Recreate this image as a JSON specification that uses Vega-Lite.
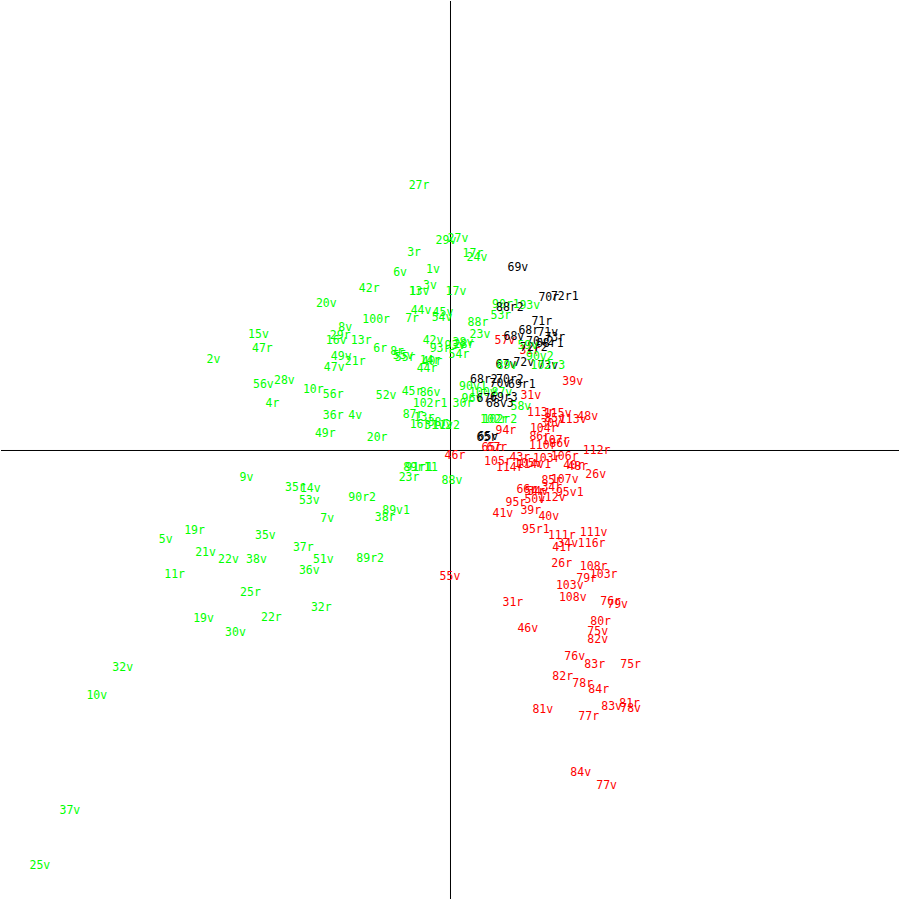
{
  "$schema": "https://vega.github.io/schema/vega-lite/v6.json",
  "autosize": {"type": "fit", "contains": "padding"},
  "width": 900,
  "height": 900,
  "padding": 0,
  "background": "white",
  "view": {"stroke": null},
  "config": {"font": "DejaVu Sans Mono"},
  "layer": [
    {
      "data": {"values": [{"v": 0}]},
      "mark": {"type": "rule", "color": "black", "strokeWidth": 1},
      "encoding": {
        "x": {"field": "v", "type": "quantitative", "scale": {"domain": [-450.5, 449.5]}, "axis": null}
      }
    },
    {
      "data": {"values": [{"v": 0}]},
      "mark": {"type": "rule", "color": "black", "strokeWidth": 1},
      "encoding": {
        "y": {"field": "v", "type": "quantitative", "scale": {"domain": [-449.5, 450.5]}, "axis": null}
      }
    },
    {
      "data": {"values": [
        {"label":"27r","x":-31,"y":266,"g":"a"},{"label":"29v","x":-4,"y":210,"g":"a"},{"label":"27v","x":8,"y":212,"g":"a"},{"label":"17r","x":23,"y":197,"g":"a"},{"label":"3r","x":-36,"y":198,"g":"a"},{"label":"24v","x":27,"y":193,"g":"a"},{"label":"6v","x":-50,"y":178,"g":"a"},{"label":"1v","x":-17,"y":181,"g":"a"},{"label":"3v","x":-20,"y":165,"g":"a"},{"label":"42r","x":-81,"y":162,"g":"a"},{"label":"1r","x":-34,"y":159,"g":"a"},{"label":"13v","x":-31,"y":159,"g":"a"},{"label":"17v","x":6,"y":159,"g":"a"},{"label":"20v","x":-124,"y":147,"g":"a"},{"label":"44v","x":-29,"y":140,"g":"a"},{"label":"45v","x":-7,"y":138,"g":"a"},{"label":"54v","x":-8,"y":133,"g":"a"},{"label":"7r","x":-38,"y":132,"g":"a"},{"label":"100r","x":-74,"y":131,"g":"a"},{"label":"88r","x":28,"y":128,"g":"a"},{"label":"53r","x":51,"y":135,"g":"a"},{"label":"90r1","x":56,"y":146,"g":"a"},{"label":"93v","x":80,"y":145,"g":"a"},{"label":"8v","x":-105,"y":123,"g":"a"},{"label":"15v","x":-192,"y":116,"g":"a"},{"label":"29r","x":-110,"y":115,"g":"a"},{"label":"16v","x":-114,"y":110,"g":"a"},{"label":"13r","x":-89,"y":110,"g":"a"},{"label":"47r","x":-188,"y":102,"g":"a"},{"label":"2v","x":-237,"y":91,"g":"a"},{"label":"23v","x":30,"y":116,"g":"a"},{"label":"42v","x":-17,"y":110,"g":"a"},{"label":"93r","x":-10,"y":102,"g":"a"},{"label":"93v","x":5,"y":105,"g":"a"},{"label":"38v","x":13,"y":108,"g":"a"},{"label":"28r","x":14,"y":106,"g":"a"},{"label":"54r","x":9,"y":96,"g":"a"},{"label":"6r","x":-70,"y":102,"g":"a"},{"label":"8r","x":-53,"y":99,"g":"a"},{"label":"55v","x":-47,"y":95,"g":"a"},{"label":"55r","x":-45,"y":93,"g":"a"},{"label":"49v","x":-109,"y":94,"g":"a"},{"label":"21r","x":-95,"y":89,"g":"a"},{"label":"47v","x":-116,"y":83,"g":"a"},{"label":"14r","x":-20,"y":90,"g":"a"},{"label":"40r","x":-18,"y":89,"g":"a"},{"label":"44r","x":-23,"y":82,"g":"a"},{"label":"28v","x":-166,"y":70,"g":"a"},{"label":"56v","x":-187,"y":66,"g":"a"},{"label":"10r","x":-137,"y":61,"g":"a"},{"label":"56r","x":-117,"y":56,"g":"a"},{"label":"52v","x":-64,"y":55,"g":"a"},{"label":"45r","x":-38,"y":59,"g":"a"},{"label":"86v","x":-20,"y":58,"g":"a"},{"label":"4r","x":-178,"y":47,"g":"a"},{"label":"102r1","x":-20,"y":47,"g":"a"},{"label":"30r","x":13,"y":47,"g":"a"},{"label":"36r","x":-117,"y":35,"g":"a"},{"label":"4v","x":-95,"y":35,"g":"a"},{"label":"87r","x":-37,"y":36,"g":"a"},{"label":"13r","x":-26,"y":33,"g":"a"},{"label":"16r","x":-30,"y":26,"g":"a"},{"label":"38r","x":-12,"y":28,"g":"a"},{"label":"11v2","x":-4,"y":25,"g":"a"},{"label":"31v2","x":-12,"y":25,"g":"a"},{"label":"49r","x":-125,"y":17,"g":"a"},{"label":"20r","x":-73,"y":13,"g":"a"},{"label":"90v1","x":23,"y":64,"g":"a"},{"label":"100v","x":33,"y":58,"g":"a"},{"label":"96v","x":22,"y":52,"g":"a"},{"label":"87v","x":52,"y":58,"g":"a"},{"label":"58v","x":71,"y":44,"g":"a"},{"label":"102r","x":44,"y":31,"g":"a"},{"label":"102r2","x":50,"y":31,"g":"a"},{"label":"89r1","x":-33,"y":-17,"g":"a"},{"label":"91r1","x":-31,"y":-17,"g":"a"},{"label":"11","x":-19,"y":-17,"g":"a"},{"label":"23r","x":-41,"y":-27,"g":"a"},{"label":"88v","x":2,"y":-30,"g":"a"},{"label":"9v","x":-204,"y":-27,"g":"a"},{"label":"35r","x":-155,"y":-37,"g":"a"},{"label":"14v","x":-140,"y":-38,"g":"a"},{"label":"53v","x":-141,"y":-50,"g":"a"},{"label":"90r2","x":-88,"y":-47,"g":"a"},{"label":"7v","x":-123,"y":-68,"g":"a"},{"label":"38r","x":-65,"y":-67,"g":"a"},{"label":"89v1","x":-54,"y":-60,"g":"a"},{"label":"19r","x":-256,"y":-80,"g":"a"},{"label":"35v","x":-185,"y":-85,"g":"a"},{"label":"5v","x":-285,"y":-89,"g":"a"},{"label":"37r","x":-147,"y":-97,"g":"a"},{"label":"21v","x":-245,"y":-102,"g":"a"},{"label":"22v","x":-222,"y":-109,"g":"a"},{"label":"38v","x":-194,"y":-109,"g":"a"},{"label":"51v","x":-127,"y":-109,"g":"a"},{"label":"89r2","x":-80,"y":-108,"g":"a"},{"label":"36v","x":-141,"y":-120,"g":"a"},{"label":"11r","x":-276,"y":-124,"g":"a"},{"label":"25r","x":-200,"y":-142,"g":"a"},{"label":"32r","x":-129,"y":-157,"g":"a"},{"label":"19v","x":-247,"y":-168,"g":"a"},{"label":"22r","x":-179,"y":-167,"g":"a"},{"label":"30v","x":-215,"y":-182,"g":"a"},{"label":"32v","x":-328,"y":-217,"g":"a"},{"label":"10v","x":-354,"y":-246,"g":"a"},{"label":"37v","x":-381,"y":-361,"g":"a"},{"label":"25v","x":-411,"y":-416,"g":"a"},

        {"label":"57v","x":55,"y":110,"g":"b"},{"label":"31r","x":80,"y":100,"g":"b"},{"label":"39v","x":123,"y":69,"g":"b"},{"label":"31v","x":81,"y":55,"g":"b"},{"label":"113r","x":91,"y":38,"g":"b"},{"label":"115v","x":108,"y":37,"g":"b"},{"label":"48v","x":138,"y":34,"g":"b"},{"label":"113v","x":123,"y":31,"g":"b"},{"label":"85v","x":105,"y":32,"g":"b"},{"label":"30v","x":101,"y":27,"g":"b"},{"label":"94r","x":56,"y":20,"g":"b"},{"label":"104r","x":94,"y":22,"g":"b"},{"label":"86r","x":90,"y":14,"g":"b"},{"label":"110r","x":93,"y":5,"g":"b"},{"label":"86v","x":110,"y":7,"g":"b"},{"label":"107r","x":106,"y":10,"g":"b"},{"label":"46r","x":5,"y":-5,"g":"b"},{"label":"67r","x":47,"y":3,"g":"b"},{"label":"65r","x":42,"y":3,"g":"b"},{"label":"112r","x":147,"y":0,"g":"b"},{"label":"105r","x":48,"y":-11,"g":"b"},{"label":"43r","x":70,"y":-7,"g":"b"},{"label":"114r","x":60,"y":-17,"g":"b"},{"label":"114v1","x":84,"y":-14,"g":"b"},{"label":"105v","x":78,"y":-13,"g":"b"},{"label":"103r","x":97,"y":-8,"g":"b"},{"label":"106r","x":115,"y":-6,"g":"b"},{"label":"48r","x":128,"y":-16,"g":"b"},{"label":"40r","x":124,"y":-15,"g":"b"},{"label":"26v","x":146,"y":-24,"g":"b"},{"label":"85r","x":102,"y":-30,"g":"b"},{"label":"107v","x":115,"y":-29,"g":"b"},{"label":"34r","x":102,"y":-37,"g":"b"},{"label":"66r","x":77,"y":-39,"g":"b"},{"label":"54r","x":85,"y":-41,"g":"b"},{"label":"34v","x":88,"y":-41,"g":"b"},{"label":"95v1","x":120,"y":-42,"g":"b"},{"label":"50v","x":85,"y":-49,"g":"b"},{"label":"112v","x":102,"y":-47,"g":"b"},{"label":"95r","x":66,"y":-52,"g":"b"},{"label":"39r","x":81,"y":-60,"g":"b"},{"label":"41v","x":53,"y":-63,"g":"b"},{"label":"40v","x":99,"y":-66,"g":"b"},{"label":"95r1","x":86,"y":-79,"g":"b"},{"label":"111r","x":112,"y":-85,"g":"b"},{"label":"111v","x":144,"y":-82,"g":"b"},{"label":"34v","x":118,"y":-93,"g":"b"},{"label":"116r","x":142,"y":-93,"g":"b"},{"label":"41r","x":113,"y":-97,"g":"b"},{"label":"26r","x":112,"y":-113,"g":"b"},{"label":"108r","x":144,"y":-116,"g":"b"},{"label":"103r","x":154,"y":-124,"g":"b"},{"label":"79r","x":137,"y":-128,"g":"b"},{"label":"103v","x":120,"y":-135,"g":"b"},{"label":"108v","x":123,"y":-147,"g":"b"},{"label":"76r","x":161,"y":-151,"g":"b"},{"label":"79v","x":168,"y":-154,"g":"b"},{"label":"31r","x":63,"y":-152,"g":"b"},{"label":"80r","x":151,"y":-171,"g":"b"},{"label":"75v","x":148,"y":-181,"g":"b"},{"label":"46v","x":78,"y":-178,"g":"b"},{"label":"82v","x":148,"y":-189,"g":"b"},{"label":"76v","x":125,"y":-206,"g":"b"},{"label":"83r","x":145,"y":-214,"g":"b"},{"label":"75r","x":181,"y":-214,"g":"b"},{"label":"82r","x":113,"y":-227,"g":"b"},{"label":"78r","x":133,"y":-234,"g":"b"},{"label":"84r","x":149,"y":-240,"g":"b"},{"label":"81v","x":93,"y":-260,"g":"b"},{"label":"83v","x":162,"y":-257,"g":"b"},{"label":"81r","x":180,"y":-254,"g":"b"},{"label":"78v","x":181,"y":-259,"g":"b"},{"label":"77r","x":139,"y":-267,"g":"b"},{"label":"84v","x":131,"y":-323,"g":"b"},{"label":"77v","x":157,"y":-336,"g":"b"},{"label":"55v","x":0,"y":-126,"g":"b"},

        {"label":"69v","x":68,"y":183,"g":"c"},{"label":"70r","x":99,"y":153,"g":"c"},{"label":"72r1","x":115,"y":154,"g":"c"},{"label":"88r2","x":60,"y":143,"g":"c"},{"label":"71r","x":92,"y":129,"g":"c"},{"label":"68r","x":79,"y":120,"g":"c"},{"label":"71v","x":98,"y":118,"g":"c"},{"label":"68v","x":64,"y":114,"g":"c"},{"label":"73r","x":105,"y":113,"g":"c"},{"label":"70v2","x":90,"y":109,"g":"c"},{"label":"68r1","x":100,"y":107,"g":"c"},{"label":"72r2","x":84,"y":103,"g":"c"},{"label":"67v","x":56,"y":86,"g":"c"},{"label":"72v","x":74,"y":88,"g":"c"},{"label":"73v","x":98,"y":85,"g":"c"},{"label":"68r2","x":34,"y":71,"g":"c"},{"label":"70r2","x":60,"y":71,"g":"c"},{"label":"70v","x":50,"y":67,"g":"c"},{"label":"69r1","x":72,"y":66,"g":"c"},{"label":"67r","x":37,"y":52,"g":"c"},{"label":"69r3","x":54,"y":53,"g":"c"},{"label":"68v3","x":50,"y":47,"g":"c"},{"label":"65v","x":38,"y":14,"g":"c"},{"label":"65r","x":37,"y":13,"g":"c"},

        {"label":"90v2","x":90,"y":94,"g":"a"},{"label":"89v","x":57,"y":85,"g":"a"},{"label":"102r3","x":98,"y":85,"g":"a"},{"label":"59v","x":78,"y":105,"g":"a"}
      ]},
      "mark": {"type": "text", "align": "center", "baseline": "middle", "fontSize": 11.5, "dy": 1},
      "encoding": {
        "x": {"field": "x", "type": "quantitative", "scale": {"domain": [-450, 450]}, "axis": null},
        "y": {"field": "y", "type": "quantitative", "scale": {"domain": [-450, 450]}, "axis": null},
        "text": {"field": "label", "type": "nominal"},
        "color": {
          "field": "g",
          "type": "nominal",
          "legend": null,
          "scale": {"domain": ["a", "b", "c"], "range": ["#00ff00", "#ff0000", "#000000"]}
        }
      }
    }
  ],
  "resolve": {"scale": {"x": "independent", "y": "independent"}}
}
